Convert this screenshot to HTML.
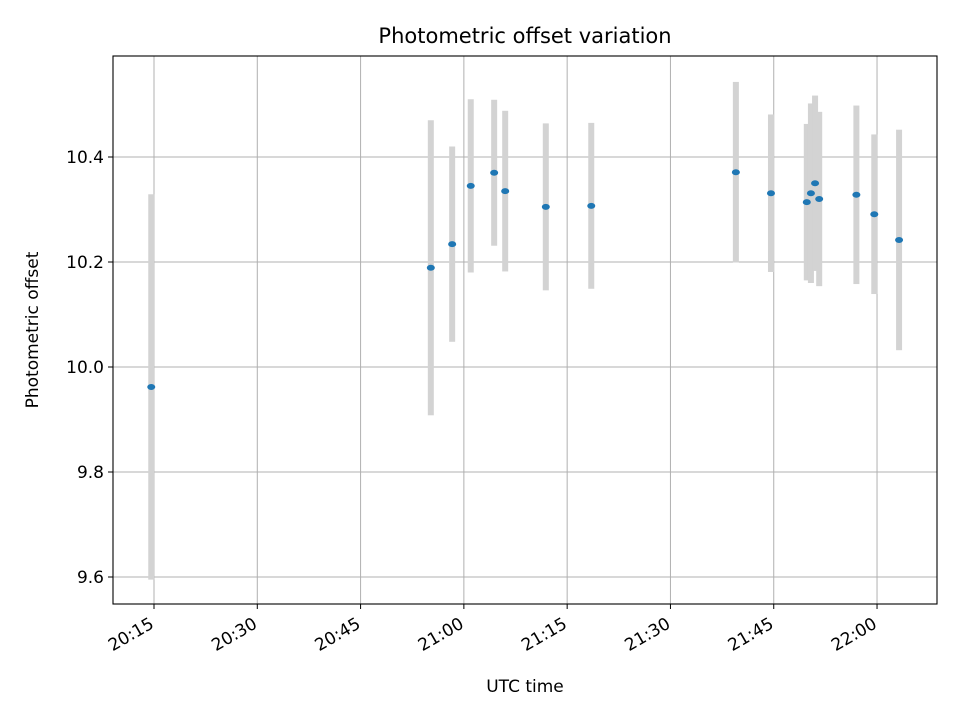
<!DOCTYPE html>
<html><head><meta charset="utf-8"><style>
body{margin:0;background:#fff;font-family:"Liberation Sans","DejaVu Sans",sans-serif}
svg text{font-family:"DejaVu Sans","Liberation Sans",sans-serif}
</style></head><body>
<svg id="chart" width="960" height="720" xmlns="http://www.w3.org/2000/svg">
<rect width="960" height="720" fill="#fff"/>
<g id="grid"></g><g id="bars"></g><g id="pts"></g>
<rect x="113" y="56" width="824" height="548" fill="none" stroke="#000" stroke-width="1.1"/>
<g id="ticks"></g>
<text x="525" y="43" text-anchor="middle" font-size="21">Photometric offset variation</text>
<text x="525" y="692" text-anchor="middle" font-size="17">UTC time</text>
<text transform="translate(38,330) rotate(-90)" text-anchor="middle" font-size="17">Photometric offset</text>
</svg>
<script>
// minutes after 20:00 UTC
const times=[14.6,55.2,58.3,61.0,64.4,66.0,71.9,78.5,99.5,104.6,109.8,110.4,111.0,111.6,117.0,119.6,123.2];
const offsets=[9.962,10.189,10.234,10.345,10.37,10.335,10.305,10.307,10.371,10.331,10.314,10.331,10.35,10.32,10.328,10.291,10.242];
const errors=[0.367,0.281,0.186,0.165,0.139,0.153,0.159,0.158,0.172,0.150,0.149,0.171,0.167,0.166,0.170,0.152,0.210];
const yTicks=[9.6,9.8,10.0,10.2,10.4];
const xTickMins=[15,30,45,60,75,90,105,120];
const xTickLabels=["20:15","20:30","20:45","21:00","21:15","21:30","21:45","22:00"];
const NS="http://www.w3.org/2000/svg";
const X=m=>154+(m-15)*6.886;
const Y=v=>367-(v-10)*525;
function mk(t,a,p){const e=document.createElementNS(NS,t);for(const k in a)e.setAttribute(k,a[k]);document.getElementById(p).appendChild(e);return e;}
yTicks.forEach(v=>{
 const g=mk('line',{x1:113,x2:937,y1:Y(v),y2:Y(v),stroke:'#b0b0b0','stroke-width':1},'grid');
 
 
 mk('line',{x1:108,x2:113,y1:Y(v),y2:Y(v),stroke:'#000'},'ticks');
 const t=mk('text',{x:104,y:Y(v)+6,'text-anchor':'end','font-size':17},'ticks');
 t.textContent=v.toFixed(1);
 
 
});
xTickMins.forEach((m,i)=>{
 const g=mk('line',{x1:X(m),x2:X(m),y1:56,y2:604,stroke:'#b0b0b0','stroke-width':1},'grid');
 
 
 mk('line',{x1:X(m),x2:X(m),y1:604,y2:609,stroke:'#000'},'ticks');
 const ax=X(m)+1, ay=627;
 const t=mk('text',{x:ax,y:ay,'text-anchor':'end','font-size':17,transform:`rotate(-30 ${ax} ${ay})`},'ticks');
 t.textContent=xTickLabels[i];
 
 
});
times.forEach((m,i)=>{
 const b=mk('rect',{x:X(m)-3,y:Y(offsets[i]+errors[i]),width:6,height:Y(offsets[i]-errors[i])-Y(offsets[i]+errors[i]),fill:'#d3d3d3'},'bars');
 
 
 const p=mk('ellipse',{cx:X(m),cy:Y(offsets[i]),rx:4,ry:3,fill:'#1f77b4'},'pts');
 
 
});
</script>
</body></html>
